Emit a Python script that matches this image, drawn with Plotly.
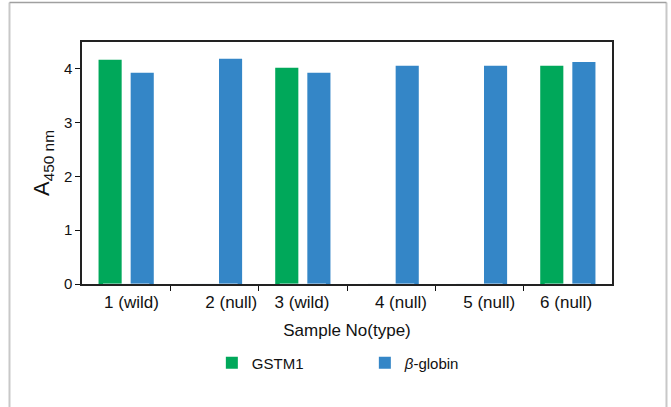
import plotly.graph_objects as go

samples = [1, 2, 3, 4, 5, 6]
sample_labels = ["1 (wild)", "2 (null)", "3 (wild)", "4 (null)", "5 (null)", "6 (null)"]
label_positions = [1.06, 2.19, 2.99, 4.11, 5.11, 5.98]
boundaries = [1.5, 2.5, 3.5, 4.5, 5.5]
gstm1 = [4.17, None, 4.02, None, None, 4.06]
beta_globin = [3.93, 4.19, 3.93, 4.06, 4.06, 4.13]
y_ticks = [0, 1, 2, 3, 4]

GREEN = "#00a85a"
BLUE = "#3486c7"
FONT = "Liberation Sans, Arial, Helvetica, sans-serif"

fig = go.Figure()
fig.add_trace(go.Bar(x=samples, y=gstm1, name="GSTM1", marker=dict(color=GREEN, line=dict(width=0))))
fig.add_trace(go.Bar(x=samples, y=beta_globin, name="<i>β</i>-globin",
                     marker=dict(color=BLUE, line=dict(width=0)), xaxis="x"))
# invisible helper trace to activate label axis
fig.add_trace(go.Bar(x=samples, y=[0] * 6, xaxis="x2", showlegend=False, hoverinfo="skip",
                     marker=dict(color="rgba(0,0,0,0)")))

fig.update_layout(
    width=671, height=407,
    margin=dict(l=82, r=59, t=42, b=123, autoexpand=False),
    paper_bgcolor="white", plot_bgcolor="white",
    font=dict(family=FONT, color="#111"),
    barmode="group", bargap=0.273, bargroupgap=0.28,
    showlegend=True,
    legend=dict(orientation="h", x=0.245, xanchor="left", y=-0.258, yanchor="top",
                font=dict(size=15, family=FONT, color="#111"),
                entrywidth=108, entrywidthmode="pixels", itemwidth=30,
                bgcolor="rgba(0,0,0,0)", traceorder="normal"),
    xaxis=dict(range=[0.5, 6.5], tickmode="array", tickvals=boundaries, showticklabels=False,
               ticks="outside", ticklen=5, tickwidth=1.2, tickcolor="#111",
               showline=True, linecolor="#222", linewidth=1.5, mirror=True,
               showgrid=False, zeroline=False, fixedrange=True),
    xaxis2=dict(overlaying="x", anchor="y", side="bottom", matches="x",
                tickmode="array", tickvals=label_positions, ticktext=sample_labels,
                ticks="outside", ticklen=3, tickcolor="rgba(0,0,0,0)",
                tickfont=dict(size=17, family=FONT, color="#111"),
                showline=False, showgrid=False, zeroline=False,
                title=dict(text="Sample No(type)", font=dict(size=17, family=FONT, color="#111"), standoff=12)),
    yaxis=dict(range=[0, 4.5], tickmode="array", tickvals=y_ticks,
               ticks="outside", ticklen=5, tickwidth=1.2, tickcolor="#111",
               tickfont=dict(size=15, family=FONT, color="#111"),
               showline=True, linecolor="#222", linewidth=1.5, mirror=True,
               showgrid=False, zeroline=False,
               title=dict(text="A<sub>450 nm</sub>", font=dict(size=22, family=FONT, color="#111"), standoff=8)),
)

# outer light frame
fig.add_shape(type="line", xref="paper", yref="paper", x0=-0.1368, x1=-0.1368, y0=1.1632, y1=-0.51,
              line=dict(color="#c8c8c8", width=2))
fig.add_shape(type="line", xref="paper", yref="paper", x0=1.1028, x1=1.1028, y0=1.1632, y1=-0.51,
              line=dict(color="#c8c8c8", width=2))
fig.add_shape(type="line", xref="paper", yref="paper", x0=-0.1368, x1=1.1028, y0=1.1632, y1=1.1632,
              line=dict(color="#a0a0a0", width=1.5))

fig.write_html("out.html", config={"displayModeBar": False},
               post_script="document.body.style.margin='0';")
